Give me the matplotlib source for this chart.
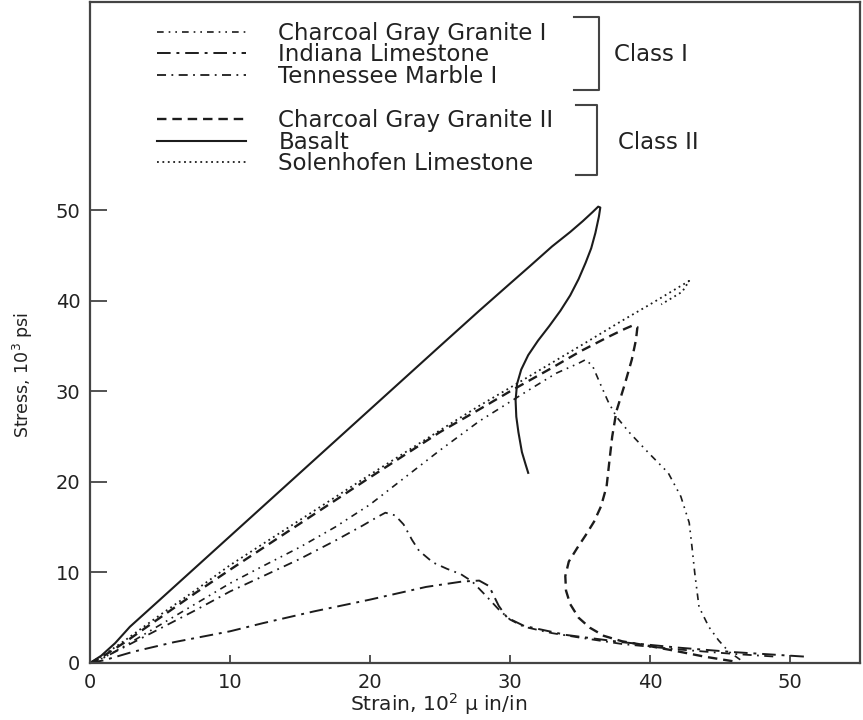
import matplotlib
matplotlib.use("Agg")
import matplotlib.pyplot as plt

plt.rcParams['font.family'] = ['DejaVu Sans']
plt.rcParams['mathtext.fontset'] = 'dejavusans'

# ---------------- data (strain in 10^2 micro in/in, stress in 10^3 psi) ----------------
cgg1_x = [0, 1, 2.5, 5, 7.5, 10, 12.1, 15, 17.5, 20, 22.5, 25, 27.8, 31.4, 33.3, 34.9, 35.4,
          35.9, 36.4, 37.0, 37.6, 38.5, 39.9, 41.3, 42.2, 42.8, 43.0, 43.2, 43.5, 44.2, 44.9, 45.6, 46.5]
cgg1_y = [0, 0.6, 1.9, 4.2, 6.5, 8.8, 10.5, 12.8, 15.0, 17.5, 20.5, 23.5, 26.7, 30.2, 32.0, 33.1, 33.5,
          32.8, 31.0, 28.9, 27.2, 25.5, 23.2, 21.0, 18.4, 15.5, 12.8, 9.9, 6.2, 4.0, 2.5, 1.3, 0.3]

ind_x = [0, 1, 3.1, 6, 10, 12.35, 16, 20, 24, 26.6, 27.8, 28.5, 29.2, 29.8, 31, 34, 38, 42, 46, 51.1]
ind_y = [0, 0.3, 1.25, 2.3, 3.5, 4.4, 5.7, 7.0, 8.4, 9.0, 9.1, 8.5, 6.3, 5.0, 4.1, 3.1, 2.3, 1.7, 1.2, 0.7]

ten_x = [0, 1, 2.5, 5, 7.5, 10, 12.1, 15, 17.5, 19.5, 20.5, 21.1, 21.8, 22.4, 23.0, 23.5, 24.5, 25.5,
         26.5, 27.3, 28.3, 29.2, 30.0, 31.0, 33.0, 35, 38, 42, 46, 49]
ten_y = [0, 0.6, 1.8, 3.8, 5.8, 7.9, 9.4, 11.5, 13.5, 15.2, 16.1, 16.6, 16.3, 15.3, 13.6, 12.4, 11.1, 10.4,
         9.8, 9.0, 7.4, 5.9, 4.8, 4.0, 3.3, 2.8, 2.1, 1.5, 1.0, 0.7]

cgg2_x = [0, 1, 2.5, 5, 7.5, 10, 15, 20, 25, 27.8, 30, 33, 35, 37, 38.2, 38.8, 39.1, 39.0, 38.7, 38.2,
          37.6, 37.3, 37.1, 36.9, 36.5, 36.0, 35.4, 34.8, 34.2, 33.95, 34.0, 34.3, 34.9, 35.7, 36.7, 38.0,
          39.5, 41.6, 43.9, 46.3]
cgg2_y = [0, 0.8, 2.3, 5.0, 7.7, 10.3, 15.4, 20.5, 25.5, 28.0, 30.0, 32.6, 34.4, 36.0, 36.9, 37.3, 37.1,
          35.7, 33.5, 30.8, 27.8, 25.0, 22.3, 19.5, 17.3, 15.6, 14.1, 12.7, 11.2, 9.6, 8.0, 6.5, 5.0, 3.9,
          3.0, 2.4, 2.0, 1.4, 0.7, 0.1]

bas_x = [0, 0.8, 1.8, 2.85, 5, 7.5, 10, 14.5, 18, 21.5, 25, 27.8, 30, 31.4, 33, 34.3, 35.2, 35.9, 36.3,
         36.45, 36.35, 36.1, 35.8, 35.4, 34.9, 34.3, 33.6, 32.8, 32.0, 31.3, 30.8, 30.5, 30.4, 30.45,
         30.6, 30.85, 31.1, 31.3]
bas_y = [0, 0.8, 2.2, 4.0, 7.0, 10.5, 14.0, 20.3, 25.2, 30.1, 35.0, 38.9, 41.9, 43.8, 46.0, 47.6, 48.8,
         49.8, 50.4, 50.3, 49.3, 47.5, 45.8, 44.2, 42.4, 40.6, 38.9, 37.2, 35.6, 34.0, 32.4, 30.8, 29.0,
         27.2, 25.5, 23.3, 22.0, 21.0]

sol_x = [0, 1, 2.5, 5, 7.5, 10, 15, 20, 25, 27.8, 30, 35, 38, 40, 42.8, 42.3, 40.8]
sol_y = [0, 0.9, 2.5, 5.3, 8.0, 10.8, 15.8, 20.8, 25.7, 28.4, 30.4, 35.0, 37.8, 39.6, 42.2, 41.0, 39.6]

labels = ["Charcoal Gray Granite I", "Indiana Limestone", "Tennessee Marble I",
          "Charcoal Gray Granite II", "Basalt", "Solenhofen Limestone"]
group_labels = ["Class I", "Class II"]
x_ticks = [0, 10, 20, 30, 40, 50]
y_ticks = [0, 10, 20, 30, 40, 50]

# ---------------- figure ----------------
fig = plt.figure(figsize=(8.63, 7.2), dpi=100)
ax = fig.add_axes([90 / 863, 1 - 663 / 720, 770 / 863, 661 / 720])

ink = '#1c1c1c'
l1, = ax.plot(cgg1_x, cgg1_y, color=ink, lw=1.2, ls=(0, (4, 3, 1, 3, 1, 3)), label=labels[0])
l2, = ax.plot(ind_x, ind_y, color=ink, lw=1.4, ls=(0, (7, 3, 1.5, 3)), label=labels[1])
l3, = ax.plot(ten_x, ten_y, color=ink, lw=1.3, ls=(0, (5, 3, 1, 3)), label=labels[2])
l4, = ax.plot(cgg2_x, cgg2_y, color=ink, lw=1.7, ls=(0, (4, 2.5)), label=labels[3])
l5, = ax.plot(bas_x, bas_y, color=ink, lw=1.5, ls='-', label=labels[4])
l6, = ax.plot(sol_x, sol_y, color=ink, lw=1.3, ls=(0, (1, 2)), label=labels[5])

ax.set_xlim(0, 55)
ax.set_ylim(0, 73)
ax.set_xticks(x_ticks)
ax.set_yticks(y_ticks)
ax.tick_params(axis='x', direction='in', length=6, width=1.3, pad=7, labelsize=14,
               color='#444444', labelcolor='#222222')
ax.tick_params(axis='y', direction='in', length=12, width=1.3, pad=7, labelsize=14,
               color='#444444', labelcolor='#222222')
for s in ax.spines.values():
    s.set_color('#444444')
    s.set_linewidth(1.6)

ax.set_xlabel('Strain, 10$^2$ μ in/in', fontsize=14.5, color='#222222', va='center')
ax.xaxis.set_label_coords((439 - 90) / 770, (663 - 704) / 661)
ax.set_ylabel('Stress, 10$^3$ psi', fontsize=12.5, color='#222222', va='center')
ax.yaxis.set_label_coords((23 - 90) / 770, (663 - 375) / 661)

leg_kw = dict(loc='upper left', frameon=False, fontsize=16.5, handlelength=3.9,
              handletextpad=1.4, labelspacing=-0.06, borderpad=0, borderaxespad=0,
              labelcolor='#222222')
leg1 = ax.legend(handles=[l1, l2, l3], bbox_to_anchor=(0.087, 0.970), **leg_kw)
ax.add_artist(leg1)
leg2 = ax.legend(handles=[l4, l5, l6], bbox_to_anchor=(0.087, 0.838), **leg_kw)

# group brackets
ax.plot([0.6286, 0.661, 0.661, 0.6286], [0.977, 0.977, 0.867, 0.867], transform=ax.transAxes,
        color='#444444', lw=1.5, clip_on=False)
ax.plot([0.631, 0.658, 0.658, 0.631], [0.844, 0.844, 0.738, 0.738], transform=ax.transAxes,
        color='#444444', lw=1.5, clip_on=False)
ax.text(0.681, 0.920, group_labels[0], transform=ax.transAxes, fontsize=16.5, color='#222222',
        ha='left', va='center')
ax.text(0.686, 0.788, group_labels[1], transform=ax.transAxes, fontsize=16.5, color='#222222',
        ha='left', va='center')

fig.savefig('out.png', dpi=100)
